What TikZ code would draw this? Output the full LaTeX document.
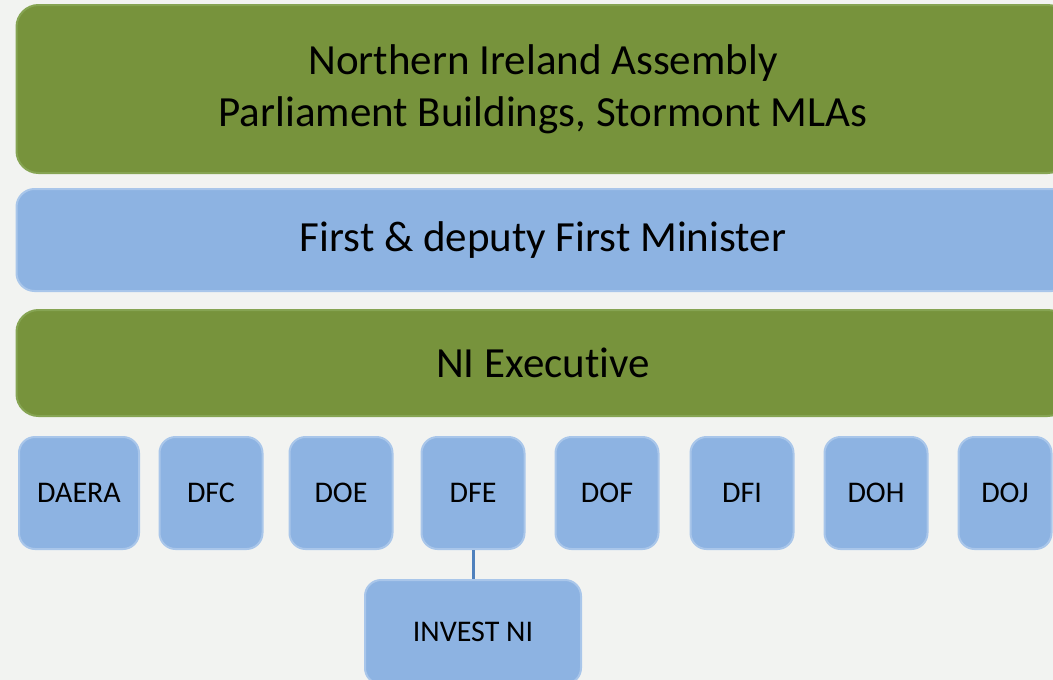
\documentclass[tikz,border=0pt]{standalone}
\usepackage{fontspec}
\setmainfont[Ligatures={NoCommon}]{Carlito}
\usepackage{xcolor}
\usetikzlibrary{positioning}

\definecolor{nigreen}{HTML}{77933C}
\definecolor{nigreenedge}{HTML}{86A453}
\definecolor{niblue}{HTML}{8DB3E2}
\definecolor{niblueedge}{HTML}{A9C6EA}
\definecolor{nilink}{HTML}{4F81BD}
\definecolor{nibg}{HTML}{F2F3F1}

\tikzset{
  greenbar/.style={fill=nigreen, draw=nigreenedge, line width=2pt, rounded corners=22pt,
    minimum width=1053pt, align=center, font=\fontsize{43}{52}\selectfont},
  bluebar/.style={fill=niblue, draw=niblueedge, line width=2pt, rounded corners=18pt,
    minimum width=1053pt, align=center, font=\fontsize{43}{52}\selectfont},
  deptbox/.style={fill=niblue, draw=niblueedge, line width=2pt, rounded corners=16pt,
    minimum height=112pt, font=\fontsize{30}{34}\selectfont}
}

\begin{document}
\begin{tikzpicture}[x=1pt,y=-1pt]
    \useasboundingbox (0,0) rectangle (1053,680);
    \clip (0,0) rectangle (1053,680);
    \fill[nibg] (0,0) rectangle (1053,680);

    % top levels
    \node[greenbar, minimum height=168pt] (assembly) at (543,89)
        {Northern Ireland Assembly\\Parliament Buildings, Stormont MLAs};
    \node[bluebar, minimum height=102pt] (fdfm) at (543,240) {First \& deputy First Minister};
    \node[greenbar, minimum height=106pt] (exec) at (543,363) {NI Executive};

    % departments
    \node[deptbox, minimum width=120pt] (daera) at (79,493) {DAERA};
    \node[deptbox, minimum width=103pt] (dfc) at (211,493) {DFC};
    \node[deptbox, minimum width=103pt] (doe) at (341,493) {DOE};
    \node[deptbox, minimum width=103pt] (dfe) at (473,493) {DFE};
    \node[deptbox, minimum width=103pt] (dof) at (607,493) {DOF};
    \node[deptbox, minimum width=103pt] (dfi) at (742,493) {DFI};
    \node[deptbox, minimum width=103pt] (doh) at (876,493) {DOH};
    \node[deptbox, minimum width=93pt] (doj) at (1005,493) {DOJ};

    \node[deptbox, minimum width=216pt, minimum height=104pt] (invest) at (473,632) {INVEST NI};

    \draw[nilink, line width=3pt] (dfe.south) -- (invest.north);
\end{tikzpicture}
\end{document}
